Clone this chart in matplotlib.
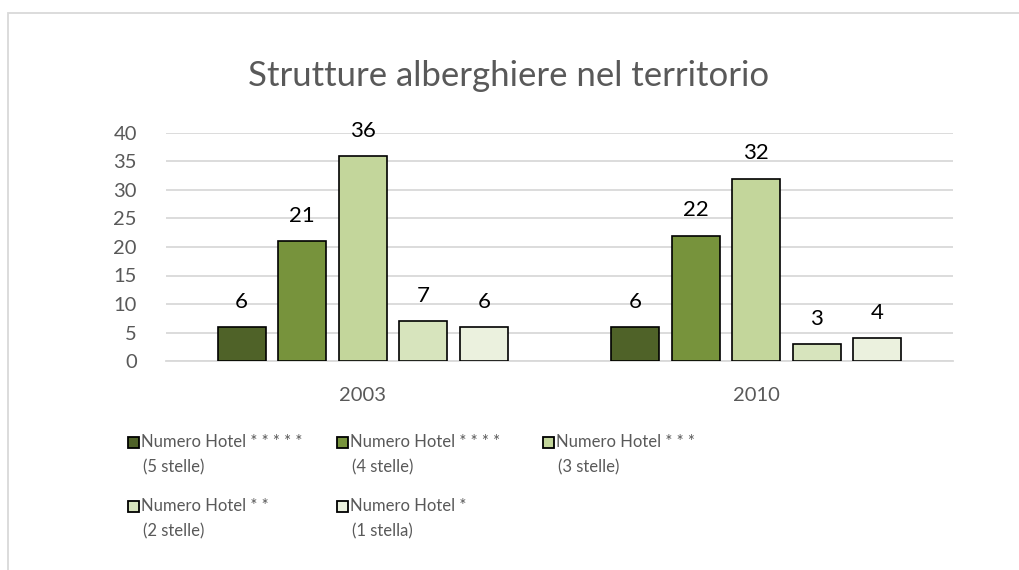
import matplotlib
matplotlib.use("Agg")
import matplotlib.pyplot as plt
from matplotlib.patches import Rectangle
import numpy as np

plt.rcParams["font.family"] = ["Lato", "DejaVu Sans"]

# data
years = ["2003", "2010"]
series_names = [
    "Numero Hotel * * * * *\n(5 stelle)",
    "Numero Hotel * * * *\n(4 stelle)",
    "Numero Hotel * * *\n(3 stelle)",
    "Numero Hotel * *\n(2 stelle)",
    "Numero Hotel *\n(1 stella)",
]
hotel_5 = [6, 6]
hotel_4 = [21, 22]
hotel_3 = [36, 32]
hotel_2 = [7, 3]
hotel_1 = [6, 4]
series_values = [hotel_5, hotel_4, hotel_3, hotel_2, hotel_1]
series_colors = ["#4F6228", "#77933C", "#C3D69B", "#D7E4BD", "#EBF1DE"]
y_ticks = [0, 5, 10, 15, 20, 25, 30, 35, 40]

TEXT_GREY = "#595959"
GRID_GREY = "#D9D9D9"

W, H = 1020, 570
fig = plt.figure(figsize=(W / 100, H / 100), dpi=100)

# light frame of the chart area (runs past the right/bottom edge)
fig.patches.append(
    Rectangle((8 / W, -0.05), 1.1, 1 - 13 / H + 0.05, transform=fig.transFigure,
              fill=False, edgecolor=GRID_GREY, lw=1.3)
)

ax = fig.add_axes([166 / W, 1 - 361 / H, (953 - 166) / W, (361 - 133) / H])

x = np.arange(len(years))
bar_w = 0.122
pitch = 0.154
for i, (vals, col) in enumerate(zip(series_values, series_colors)):
    offs = (i - (len(series_values) - 1) / 2) * pitch
    bars = ax.bar(x + offs, vals, bar_w, color=col, edgecolor="black", lw=1.2, zorder=3)
    ax.bar_label(bars, labels=[str(v) for v in vals], padding=11, fontsize=16, color="black")

ax.set_xlim(-0.5, 1.5)
ax.set_ylim(0, 40)
ax.set_yticks(y_ticks)
ax.set_xticks(x)
ax.set_xticklabels(years)
ax.tick_params(axis="both", length=0, labelsize=14.5, colors=TEXT_GREY)
ax.tick_params(axis="y", pad=21)
ax.tick_params(axis="x", pad=19)
ax.grid(axis="y", color=GRID_GREY, lw=1.3, zorder=0)
for side in ["top", "right", "left"]:
    ax.spines[side].set_visible(False)
ax.spines["bottom"].set_color(GRID_GREY)
ax.spines["bottom"].set_linewidth(1.3)

fig.text(509 / W, 1 - 76 / H, "Strutture alberghiere nel territorio",
         ha="center", va="center", fontsize=25, color=TEXT_GREY)

# legend, 3 columns, markers aligned with the first text line
col_x = [128, 337, 543]
row_y = [442, 506]
line_gap = 25
mk = 11
for i, (name, col) in enumerate(zip(series_names, series_colors)):
    cx = col_x[i % 3]
    cy = row_y[i // 3]
    fig.patches.append(
        Rectangle((cx / W, 1 - (cy + mk / 2) / H), mk / W, mk / H, transform=fig.transFigure,
                  facecolor=col, edgecolor="black", lw=1.3)
    )
    first, second = name.split("\n")
    fig.text((cx + mk + 2) / W, 1 - cy / H, first, ha="left", va="center",
             fontsize=12, color=TEXT_GREY)
    fig.text((cx + mk + 4) / W, 1 - (cy + line_gap) / H, second, ha="left", va="center",
             fontsize=12, color=TEXT_GREY)

fig.savefig("out.png", dpi=100)
